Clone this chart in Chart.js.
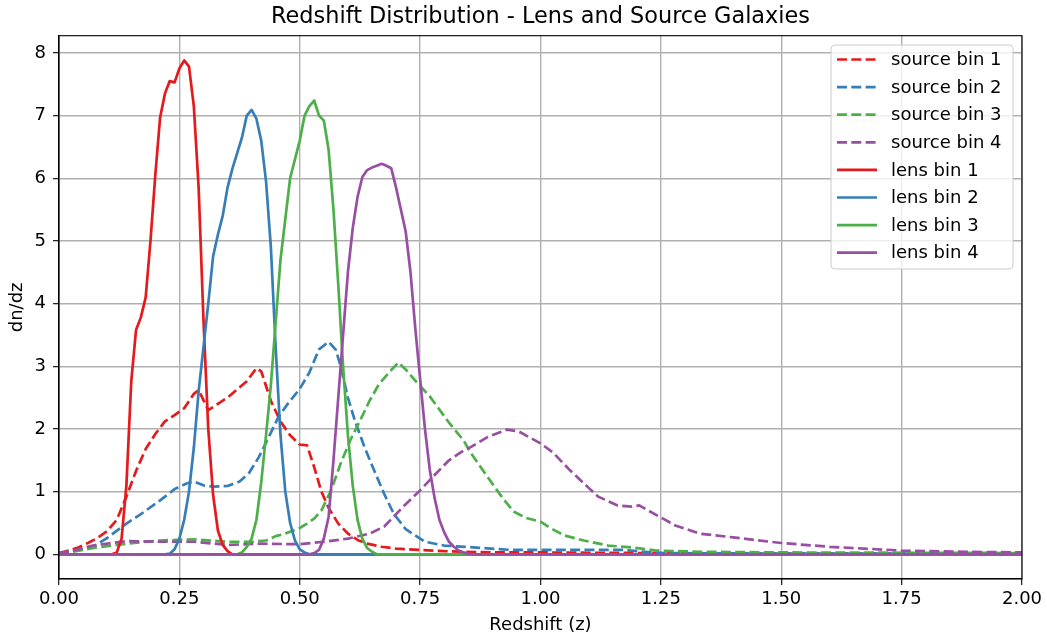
<!DOCTYPE html>
<html>
<head>
<meta charset="utf-8">
<script src="https://cdn.jsdelivr.net/npm/chart.js@4.4.1/dist/chart.umd.min.js"></script>
<style>
  html, body { margin: 0; padding: 0; background: #fff; }
  canvas { display: block; }
</style>
</head>
<body>
<canvas id="chart" width="1047" height="637"></canvas>
<script>
// source bins (dashed)
const sourceZ1 = [0, 0.02, 0.04, 0.06, 0.08, 0.10, 0.12, 0.14, 0.16, 0.18, 0.20, 0.22, 0.24, 0.26, 0.28, 0.29, 0.31, 0.33, 0.35, 0.37, 0.39, 0.41, 0.42, 0.44, 0.46, 0.48, 0.50, 0.515, 0.53, 0.545, 0.56, 0.58, 0.60, 0.62, 0.64, 0.67, 0.70, 0.75, 0.80, 0.90, 1.00, 1.20, 1.40, 2.00];
const sourceN1 = [0.02, 0.06, 0.11, 0.18, 0.26, 0.37, 0.55, 0.92, 1.33, 1.68, 1.92, 2.12, 2.22, 2.33, 2.56, 2.62, 2.30, 2.40, 2.50, 2.63, 2.76, 2.97, 2.92, 2.45, 2.12, 1.90, 1.75, 1.74, 1.39, 1.00, 0.74, 0.49, 0.33, 0.23, 0.17, 0.12, 0.09, 0.07, 0.05, 0.03, 0.03, 0.02, 0.01, 0.01];

const sourceZ2 = [0, 0.035, 0.07, 0.10, 0.14, 0.17, 0.21, 0.24, 0.265, 0.28, 0.30, 0.32, 0.35, 0.375, 0.395, 0.415, 0.435, 0.455, 0.475, 0.50, 0.52, 0.54, 0.56, 0.575, 0.585, 0.60, 0.615, 0.635, 0.655, 0.675, 0.695, 0.72, 0.76, 0.80, 0.86, 0.94, 1.06, 1.17, 1.25, 1.50, 2.00];
const sourceN2 = [0.02, 0.06, 0.12, 0.26, 0.49, 0.64, 0.86, 1.04, 1.13, 1.16, 1.10, 1.08, 1.09, 1.16, 1.30, 1.55, 1.86, 2.18, 2.40, 2.64, 2.90, 3.27, 3.39, 3.26, 3.00, 2.50, 2.12, 1.70, 1.33, 0.97, 0.65, 0.40, 0.20, 0.14, 0.11, 0.07, 0.07, 0.07, 0.02, 0.01, 0.01];

const sourceZ3 = [0, 0.07, 0.14, 0.21, 0.28, 0.35, 0.40, 0.43, 0.45, 0.47, 0.50, 0.515, 0.53, 0.545, 0.565, 0.585, 0.605, 0.625, 0.645, 0.665, 0.69, 0.705, 0.72, 0.74, 0.77, 0.81, 0.84, 0.855, 0.895, 0.925, 0.945, 0.97, 1.00, 1.02, 1.05, 1.09, 1.14, 1.19, 1.24, 1.33, 1.50, 2.00];
const sourceN3 = [0.0, 0.10, 0.17, 0.22, 0.24, 0.20, 0.20, 0.22, 0.29, 0.33, 0.42, 0.49, 0.57, 0.70, 1.02, 1.45, 1.82, 2.13, 2.45, 2.72, 2.94, 3.06, 2.95, 2.77, 2.52, 2.10, 1.82, 1.62, 1.18, 0.86, 0.68, 0.58, 0.52, 0.42, 0.30, 0.22, 0.14, 0.11, 0.06, 0.04, 0.03, 0.02];

const sourceZ4 = [0, 0.07, 0.14, 0.21, 0.28, 0.35, 0.42, 0.50, 0.55, 0.60, 0.645, 0.675, 0.695, 0.72, 0.75, 0.778, 0.81, 0.835, 0.855, 0.89, 0.93, 0.955, 1.00, 1.025, 1.06, 1.10, 1.12, 1.16, 1.19, 1.205, 1.24, 1.28, 1.30, 1.33, 1.40, 1.50, 1.60, 1.75, 1.88, 2.00];
const sourceN4 = [0.0, 0.14, 0.21, 0.20, 0.20, 0.15, 0.17, 0.16, 0.20, 0.25, 0.33, 0.44, 0.60, 0.80, 1.02, 1.25, 1.50, 1.63, 1.71, 1.87, 1.99, 1.96, 1.77, 1.63, 1.35, 1.06, 0.92, 0.78, 0.76, 0.78, 0.63, 0.46, 0.41, 0.33, 0.27, 0.18, 0.12, 0.06, 0.04, 0.03];

// lens bins (solid)
const lensZ1 = [0, 0.11, 0.12, 0.13, 0.14, 0.15, 0.16, 0.17, 0.18, 0.19, 0.20, 0.21, 0.22, 0.23, 0.24, 0.25, 0.26, 0.27, 0.28, 0.29, 0.30, 0.31, 0.32, 0.33, 0.34, 0.35, 0.36, 2.00];
const lensN1 = [0, 0, 0.03, 0.25, 1.10, 2.75, 3.58, 3.78, 4.10, 5.00, 6.05, 6.97, 7.35, 7.55, 7.53, 7.75, 7.88, 7.78, 7.15, 5.85, 3.75, 2.00, 0.95, 0.38, 0.15, 0.05, 0, 0];

const lensZ2 = [0, 0.22, 0.23, 0.24, 0.25, 0.26, 0.27, 0.28, 0.29, 0.30, 0.31, 0.32, 0.33, 0.34, 0.35, 0.36, 0.37, 0.38, 0.39, 0.40, 0.41, 0.42, 0.43, 0.44, 0.45, 0.46, 0.47, 0.48, 0.49, 0.50, 0.51, 0.52, 2.00];
const lensN2 = [0, 0, 0.01, 0.08, 0.25, 0.55, 1.00, 1.70, 2.60, 3.30, 4.00, 4.75, 5.10, 5.40, 5.85, 6.15, 6.40, 6.65, 7.00, 7.09, 6.95, 6.60, 5.95, 4.90, 3.30, 1.90, 1.00, 0.50, 0.22, 0.08, 0.03, 0, 0];

const lensZ3 = [0, 0.37, 0.38, 0.39, 0.40, 0.41, 0.42, 0.43, 0.44, 0.45, 0.46, 0.47, 0.48, 0.49, 0.50, 0.51, 0.52, 0.53, 0.54, 0.55, 0.56, 0.57, 0.58, 0.59, 0.60, 0.61, 0.62, 0.63, 0.64, 0.65, 0.66, 2.00];
const lensN3 = [0, 0, 0.03, 0.12, 0.25, 0.55, 1.15, 1.90, 2.70, 3.70, 4.70, 5.35, 6.00, 6.30, 6.60, 7.00, 7.15, 7.24, 7.00, 6.92, 6.45, 5.50, 4.30, 3.00, 1.90, 1.10, 0.55, 0.25, 0.10, 0.04, 0, 0];

const lensZ4 = [0, 0.52, 0.53, 0.54, 0.55, 0.56, 0.57, 0.58, 0.59, 0.60, 0.61, 0.62, 0.63, 0.64, 0.65, 0.66, 0.67, 0.68, 0.69, 0.70, 0.71, 0.72, 0.73, 0.74, 0.75, 0.76, 0.77, 0.78, 0.79, 0.80, 0.81, 0.82, 0.83, 0.84, 0.85, 0.86, 2.00];
const lensN4 = [0, 0, 0.02, 0.07, 0.25, 0.60, 1.50, 2.50, 3.50, 4.50, 5.20, 5.70, 6.02, 6.13, 6.17, 6.20, 6.23, 6.20, 6.16, 5.85, 5.50, 5.15, 4.50, 3.60, 2.80, 2.00, 1.35, 0.90, 0.55, 0.35, 0.20, 0.12, 0.06, 0.03, 0.01, 0, 0];

const xTicks = [0, 0.25, 0.5, 0.75, 1.0, 1.25, 1.5, 1.75, 2.0];
const yTicks = [0, 1, 2, 3, 4, 5, 6, 7, 8];

const titleText = 'Redshift Distribution - Lens and Source Galaxies';
const colors = ['#e41a1c', '#377eb8', '#4daf4a', '#984ea3'];
const FONT = 'DejaVu Sans';
const LW = 2.7;
const DASH = [10, 4.3];

const series = [
  { label: 'source bin 1', z: sourceZ1, n: sourceN1, color: colors[0], dash: DASH },
  { label: 'source bin 2', z: sourceZ2, n: sourceN2, color: colors[1], dash: DASH },
  { label: 'source bin 3', z: sourceZ3, n: sourceN3, color: colors[2], dash: DASH },
  { label: 'source bin 4', z: sourceZ4, n: sourceN4, color: colors[3], dash: DASH },
  { label: 'lens bin 1', z: lensZ1, n: lensN1, color: colors[0], dash: [] },
  { label: 'lens bin 2', z: lensZ2, n: lensN2, color: colors[1], dash: [] },
  { label: 'lens bin 3', z: lensZ3, n: lensN3, color: colors[2], dash: [] },
  { label: 'lens bin 4', z: lensZ4, n: lensN4, color: colors[3], dash: [] }
];

// later series on top, like matplotlib
const datasets = series.map((s, i) => ({
  label: s.label,
  data: s.z.map((z, j) => ({ x: z, y: s.n[j] })),
  borderColor: s.color,
  backgroundColor: s.color,
  borderWidth: LW,
  borderDash: s.dash,
  borderJoinStyle: 'round',
  borderCapStyle: 'butt',
  pointRadius: 0,
  tension: 0,
  fill: false,
  order: series.length - i
}));

// axes frame (top and right spines too) + title centred over the axes
const framePlugin = {
  id: 'frame',
  afterDatasetsDraw(chart) {
    const { ctx, chartArea: a } = chart;
    ctx.save();
    ctx.strokeStyle = '#000';
    ctx.lineWidth = 1.1;
    ctx.strokeRect(a.left, a.top, a.right - a.left, a.bottom - a.top);
    ctx.font = '22.4px "' + FONT + '"';
    ctx.fillStyle = '#000';
    ctx.textAlign = 'center';
    ctx.textBaseline = 'middle';
    ctx.fillText(titleText, (a.left + a.right) / 2, 17.5);
    ctx.restore();
  }
};

// legend box inside the plot, upper right
const legendPlugin = {
  id: 'boxLegend',
  afterDraw(chart) {
    const ctx = chart.ctx;
    const x0 = 831, y0 = 45, w = 182, h = 224, r = 4;
    ctx.save();
    ctx.beginPath();
    ctx.moveTo(x0 + r, y0);
    ctx.lineTo(x0 + w - r, y0);
    ctx.arcTo(x0 + w, y0, x0 + w, y0 + r, r);
    ctx.lineTo(x0 + w, y0 + h - r);
    ctx.arcTo(x0 + w, y0 + h, x0 + w - r, y0 + h, r);
    ctx.lineTo(x0 + r, y0 + h);
    ctx.arcTo(x0, y0 + h, x0, y0 + h - r, r);
    ctx.lineTo(x0, y0 + r);
    ctx.arcTo(x0, y0, x0 + r, y0, r);
    ctx.closePath();
    ctx.fillStyle = 'rgba(255,255,255,0.8)';
    ctx.fill();
    ctx.strokeStyle = '#cccccc';
    ctx.lineWidth = 1;
    ctx.stroke();

    ctx.font = '18px "' + FONT + '"';
    ctx.textBaseline = 'middle';
    ctx.fillStyle = '#000';
    series.forEach((s, i) => {
      const y = 59.5 + i * 27.6;
      ctx.beginPath();
      ctx.setLineDash(s.dash);
      ctx.strokeStyle = s.color;
      ctx.lineWidth = LW;
      ctx.lineCap = 'butt';
      ctx.moveTo(837, y);
      ctx.lineTo(877, y);
      ctx.stroke();
      ctx.setLineDash([]);
      ctx.fillText(s.label, 891, y + 1);
    });
    ctx.restore();
  }
};

new Chart(document.getElementById('chart').getContext('2d'), {
  type: 'line',
  data: { datasets },
  options: {
    responsive: false,
    devicePixelRatio: 1,
    animation: false,
    events: [],
    layout: { padding: { top: 35.7, right: 25, bottom: 0, left: 0 } },
    plugins: {
      legend: { display: false },
      tooltip: { enabled: false },
      title: { display: false }
    },
    scales: {
      x: {
        type: 'linear',
        min: 0,
        max: 2,
        afterBuildTicks: s => { s.ticks = xTicks.map(v => ({ value: v })); },
        afterFit: s => { s.height = 58; },
        ticks: {
          color: '#000',
          font: { family: FONT, size: 18 },
          padding: 4,
          maxRotation: 0,
          callback: v => Number(v).toFixed(2)
        },
        grid: { color: '#b0b0b0', lineWidth: 1.4, tickColor: '#000', tickLength: 6, tickWidth: 1.1 },
        border: { color: '#000', width: 1.1 },
        title: {
          display: true,
          text: 'Redshift (z)',
          color: '#000',
          font: { family: FONT, size: 18 },
          padding: { top: 0, bottom: 1 }
        }
      },
      y: {
        type: 'linear',
        min: -0.394,
        max: 8.274,
        afterBuildTicks: s => { s.ticks = yTicks.map(v => ({ value: v })); },
        afterFit: s => { s.width = 59; },
        ticks: {
          color: '#000',
          font: { family: FONT, size: 18 },
          padding: 7,
          callback: v => String(v)
        },
        grid: { color: '#b0b0b0', lineWidth: 1.4, tickColor: '#000', tickLength: 6, tickWidth: 1.1 },
        border: { color: '#000', width: 1.1 },
        title: {
          display: true,
          text: 'dn/dz',
          color: '#000',
          font: { family: FONT, size: 18 },
          padding: { top: 7, bottom: 0 }
        }
      }
    }
  },
  plugins: [framePlugin, legendPlugin]
});
</script>
</body>
</html>
